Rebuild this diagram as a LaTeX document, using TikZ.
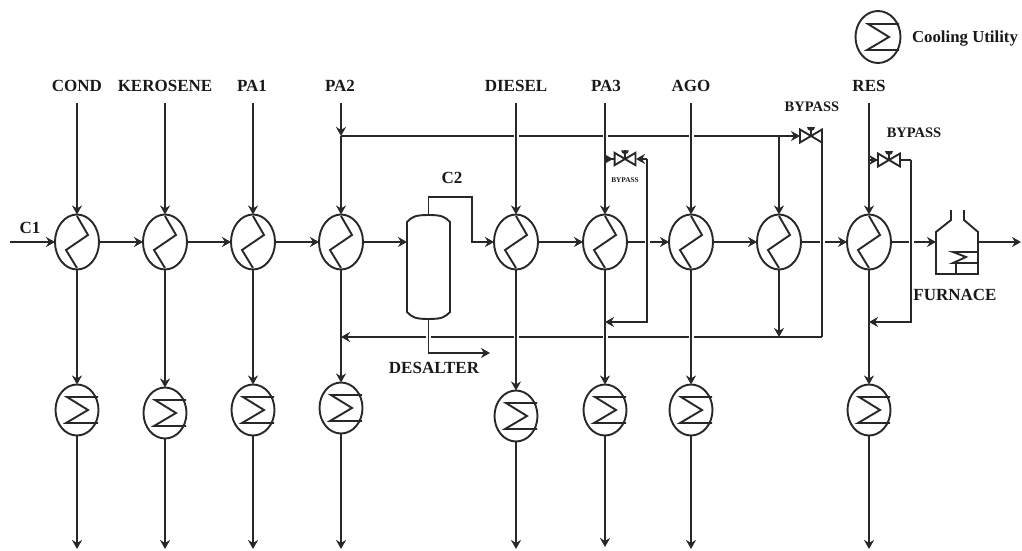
\documentclass[tikz,border=0pt]{standalone}
\usepackage{fontspec}
\setmainfont{Liberation Serif}
\usetikzlibrary{shapes.geometric, arrows.meta, positioning, calc}
\definecolor{pipeblack}{RGB}{40, 40, 40}
\tikzset{
  pipe/.style={line width=1.9pt, draw=pipeblack, line join=miter},
  flow/.style={pipe, -{Stealth[length=9pt, width=10pt]}},
  hop/.style={preaction={draw=white, line width=5pt, shorten >=4pt, shorten <=4pt, arrows=-}},
  hexch/.style={ellipse, draw=pipeblack, line width=1.9pt, fill=white, inner sep=0pt, outer sep=0pt, minimum width=44pt, minimum height=55pt},
  coolr/.style={ellipse, draw=pipeblack, line width=1.9pt, fill=white, inner sep=0pt, outer sep=0pt, minimum width=43pt, minimum height=51pt},
  lbl/.style={font=\bfseries\fontsize{17}{18}\selectfont, text=black!90, inner sep=0pt},
  lblmid/.style={font=\bfseries\fontsize{14.5}{15}\selectfont, text=black!90, inner sep=0pt},
  lbltiny/.style={font=\bfseries\fontsize{7.3}{8}\selectfont, text=black!90, inner sep=0pt},
}
\newcommand{\zigzag}[1]{\draw[pipe, shift={(#1.center)}] (0,-26) -- (11,-7) -- (-11,8) -- (0,26);}
\newcommand{\sigmacoil}[1]{\draw[pipe, shift={(#1.center)}] (21,-13) -- (-10,-13) -- (11,0) -- (-11,13) -- (21,13);}
\newcommand{\valvebody}[2]{%
  \draw[pipe, shift={(#1.center)}, scale=#2] (-11,-6.5) -- (11,6.5) -- (11,-6.5) -- (-11,6.5) -- cycle;
  \draw[pipe, shift={(#1.center)}, scale=#2] (0,0) -- (0,-9);
  \fill[pipeblack, shift={(#1.center)}, scale=#2] (-4,-9) arc[start angle=180, end angle=0, radius=4] -- cycle;
}

\begin{document}
\begin{tikzpicture}[x=1pt, y=-1pt]
  \useasboundingbox (0,0) rectangle (1022,551);

  % ===== heat exchangers and coolers =====
  \foreach \n/\x/\ky/\endy in {cond/77/410/549, kero/165/413/549, paone/253/410/549, patwo/341/408/549, dies/516/416/549, pathree/605/410/547, ago/691/410/549, res/869/410/549} {
    \node[hexch] (h\n) at (\x,242) {};
    \zigzag{h\n}
    \node[coolr] (k\n) at (\x,\ky) {};
    \sigmacoil{k\n}
    \coordinate (top\n) at (\x,103);
    \coordinate (bot\n) at (\x,\endy);
  }
  \node[hexch] (hbyp) at (779,242) {};
  \zigzag{hbyp}

  % legend
  \node[coolr, minimum width=45pt, minimum height=52pt] (klegend) at (878,37) {};
  \sigmacoil{klegend}
  \node[font=\bfseries\fontsize{16.8}{17}\selectfont, text=black!90, inner sep=0pt] (tlegend) at (965,39) {Cooling Utility};

  % desalter
  \node[minimum width=43pt, minimum height=104pt, inner sep=0pt, outer sep=0pt] (des) at (428.5,267) {};
  \draw[pipe] ($(des.north west)+(0,7)$) .. controls +(5,-5) and +(-14,0) .. (des.north) .. controls +(14,0) and +(-5,-5) .. ($(des.north east)+(0,7)$) -- ($(des.south east)+(0,-7)$) .. controls +(-5,5) and +(14,0) .. (des.south) .. controls +(-14,0) and +(5,5) .. ($(des.south west)+(0,-7)$) -- cycle;

  % furnace
  \node[minimum width=42pt, minimum height=42pt, inner sep=0pt, outer sep=0pt] (furn) at (957,253) {};
  \draw[pipe] (951,210) -- (951,220) -- (furn.north west) -- (furn.south west) -- (furn.south east) -- (furn.north east) -- (964,220) -- (964,210);
  \draw[pipe] (978,252) -- (953,252) -- (966,257) -- (953,263) -- (978,263);
  \draw[pipe] (956,263) -- (956,274);

  % valves
  \node[minimum width=22pt, minimum height=13pt, inner sep=0pt, outer sep=0pt] (vmain) at (811,136) {};
  \node[minimum width=22pt, minimum height=13pt, inner sep=0pt, outer sep=0pt] (vres) at (889,160) {};
  \node[minimum width=22pt, minimum height=12pt, inner sep=0pt, outer sep=0pt] (vpa) at (625,159) {};

  % ===== free ends and bends =====
  \coordinate (feedin) at (10,242);
  \coordinate (prodout) at (1021,242);
  \coordinate (c2bend) at (472,197);
  \coordinate (desout) at (490,353);
  \coordinate (branch) at (341,136);
  \coordinate (tapbyp) at (779,136);
  \coordinate (retbyp) at (779,337);
  \coordinate (retmain) at (822,337);
  \coordinate (topmain) at (822,136);
  \coordinate (retend) at (341,337);
  \coordinate (papipe) at (647,159);
  \coordinate (pabend) at (647,322);
  \coordinate (paend) at (605,322);
  \coordinate (papipein) at (605,159);
  \coordinate (respipe) at (911,160);
  \coordinate (resbend) at (911,322);
  \coordinate (resend) at (869,322);
  \coordinate (respipein) at (869,160);

  % ===== crude train =====
  \draw[flow] (feedin) -- (hcond.west);
  \draw[flow] (hcond.east) -- (hkero.west);
  \draw[flow] (hkero.east) -- (hpaone.west);
  \draw[flow] (hpaone.east) -- (hpatwo.west);
  \draw[flow] (hpatwo.east) -- (hpatwo.east -| des.west);
  \draw[flow] (des.north) |- (c2bend) |- (hdies.west);
  \draw[flow] (hdies.east) -- (hpathree.west);
  \draw[flow] (hpathree.east) -- (hago.west);
  \draw[flow] (hago.east) -- (hbyp.west);
  \draw[flow] (hbyp.east) -- (hres.west);
  \draw[flow] (hres.east) -- (hres.east -| furn.west);
  \draw[flow] (furn.east |- prodout) -- (prodout);

  % ===== bypass main =====
  \draw[pipe] (branch) -- (tapbyp);
  \draw[flow] (tapbyp) -- (vmain.west);
  \draw[flow] (tapbyp) -- (hbyp.north);
  \draw[flow] (hbyp.south) -- (retbyp);
  \draw[flow] (retmain) -- (retend);

  % ===== hot streams =====
  \foreach \n in {cond, kero, paone, dies, pathree, ago, res} {
    \draw[flow, hop] (top\n) -- (h\n.north);
    \draw[flow, hop] (h\n.south) -- (k\n.north);
    \draw[flow, hop] (k\n.south) -- (bot\n);
  }
  \draw[flow] (toppatwo) -- (branch);
  \draw[flow] (branch) -- (hpatwo.north);
  \draw[flow] (hpatwo.south) -- (kpatwo.north);
  \draw[flow] (kpatwo.south) -- (botpatwo);

  % ===== return lines =====
  \draw[pipe, hop] (vmain.east) -- (topmain) -- (retmain);
  \draw[flow] (papipein) -- +(8,0);
  \draw[flow] (papipe) -- (vpa.east);
  \draw[pipe] (vpa.west) -- (papipein);
  \draw[flow, hop] (papipe) -- (pabend) -- (paend);
  \draw[flow] (respipein) -- +(9,0);
  \draw[pipe] (vres.west) -- (respipein);
  \draw[pipe] (vres.east) -- (respipe);
  \draw[flow, hop] (respipe) -- (resbend) -- (resend);
  \valvebody{vmain}{1}
  \valvebody{vres}{1}
  \valvebody{vpa}{0.95}

  % desalter water
  \draw[flow, hop] (des.south) |- (desout);

  % ===== labels =====
  \foreach \n/\x/\lbltxt in {cond/77/COND, kero/165/KEROSENE, paone/252/PA1, patwo/340/PA2, dies/516/DIESEL, pathree/606/PA3, ago/691/AGO, res/869/RES} {
    \node[lbl] (t\n) at (\x,86) {\lbltxt};
  }
  \node[lbl] (tfeed) at (30,228) {C1};
  \node[lbl] (tctwo) at (452,178) {C2};
  \node[lbl] (tdes) at (434,368) {DESALTER};
  \node[lbl] (tfurn) at (955,295) {FURNACE};
  \node[lblmid] (tmainbyp) at (812,107) {BYPASS};
  \node[lblmid] (tresbyp) at (914,133) {BYPASS};
  \node[lbltiny] (tpabyp) at (625,180) {BYPASS};
\end{tikzpicture}
\end{document}
